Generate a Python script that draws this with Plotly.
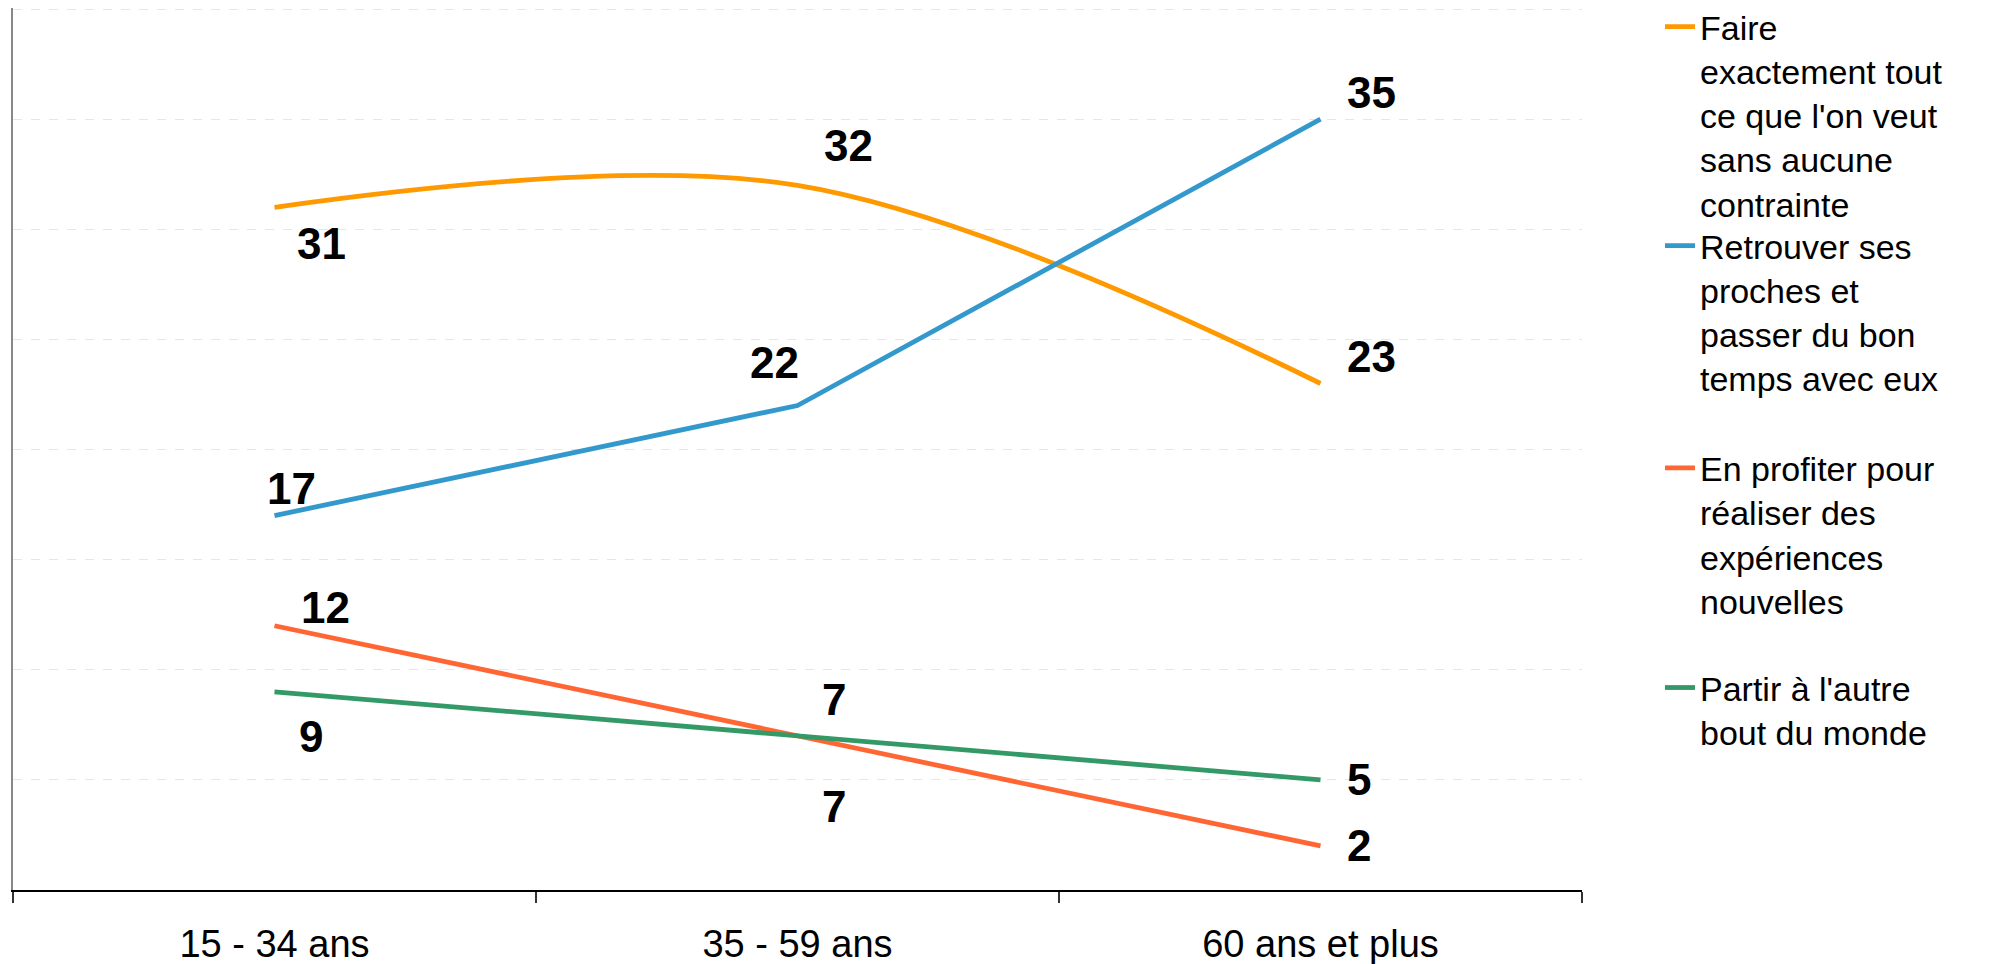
import plotly.graph_objects as go

categories = ["15 - 34 ans", "35 - 59 ans", "60 ans et plus"]
series_names = [
    "Faire<br>exactement tout<br>ce que l'on veut<br>sans aucune<br>contrainte",
    "Retrouver ses<br>proches et<br>passer du bon<br>temps avec eux",
    "En profiter pour<br>réaliser des<br>expériences<br>nouvelles",
    "Partir à l'autre<br>bout du monde",
]
faire = [31, 32, 23]
retrouver = [17, 22, 35]
profiter = [12, 7, 2]
partir = [9, 7, 5]

colors = ["#FF9900", "#3399CC", "#FF6633", "#339966"]
values = [faire, retrouver, profiter, partir]
shapes = ["spline", "linear", "linear", "linear"]
legend_ids = ["legend", "legend2", "legend3", "legend4"]
legend_y = [1.0113, 0.763, 0.511, 0.262]

# label offsets (pixels) per series / point
offsets = [
    [(47, -36), (51, 40), (51, 27)],
    [(17, 27), (-23, 43), (51, 27)],
    [(51, 18), (36, -71), (38, 0)],
    [(36, -45), (36, 36), (38, 0)],
]

fig = go.Figure()
for i in range(4):
    fig.add_trace(go.Scatter(
        x=categories, y=values[i], mode="lines", name=series_names[i],
        line=dict(color=colors[i], width=4.8, shape=shapes[i], smoothing=1),
        legend=legend_ids[i],
    ))
    for j, v in enumerate(values[i]):
        dx, dy = offsets[i][j]
        fig.add_annotation(x=categories[j], y=v, text=str(v), showarrow=False,
                           xshift=dx, yshift=dy,
                           font=dict(family="Liberation Sans, Arial", size=44, color="black", weight="bold"))

leg_common = dict(xanchor="left", yanchor="top", x=1.0497, valign="top",
                  bgcolor="rgba(0,0,0,0)", borderwidth=0,
                  font=dict(family="Liberation Sans, Arial", size=34, color="black"))
fig.update_layout(**{lid: dict(y=legend_y[k], **leg_common) for k, lid in enumerate(legend_ids)})

fig.update_xaxes(
    type="category", range=[-0.5, 2.5], showgrid=False,
    showline=True, linecolor="black", linewidth=1.5,
    ticks="outside", tickson="boundaries", ticklen=11, tickcolor="#333333", tickwidth=1.5,
    ticklabelstandoff=20,
    tickfont=dict(family="Liberation Sans, Arial", size=38, color="black"),
)
fig.update_yaxes(
    range=[0, 40.05], dtick=5, showticklabels=False, ticks="",
    showgrid=True, gridcolor="#E6E6E6", griddash="dash", gridwidth=1,
    showline=True, linecolor="#888888", linewidth=1.5, zeroline=False,
)
fig.update_layout(
    width=1992, height=956,
    margin=dict(l=5, r=418, t=0, b=74, autoexpand=False),
    plot_bgcolor="white", paper_bgcolor="white",
    showlegend=True,
)
fig.write_html("out.html")
